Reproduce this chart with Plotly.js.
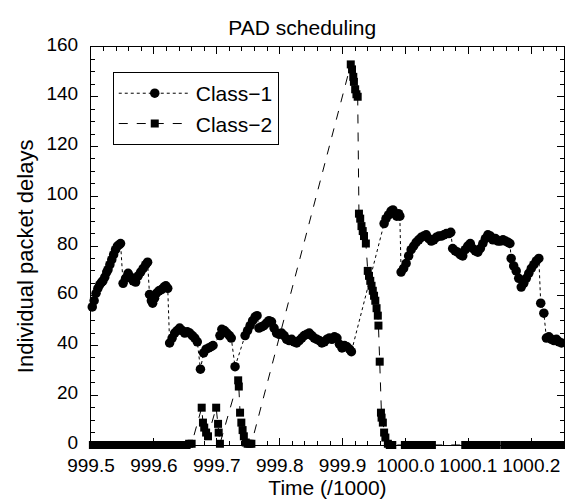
<!DOCTYPE html>
<html>
<head>
<meta charset="utf-8">
<script src="https://cdn.plot.ly/plotly-3.0.1.min.js"></script>
<style>html,body{margin:0;padding:0;background:#fff;}#chart{width:565px;height:500px;}</style>
</head>
<body>
<div id="chart"></div>
<script>
// Class-1 packet delays (time in units of 1000, delay)
const class1Time = [
  999.502, 999.505, 999.508, 999.511, 999.514, 999.517, 999.519, 999.522, 999.525, 999.527, 999.530, 999.533, 999.536, 999.539, 999.542, 999.545, 999.547,
  999.551, 999.555, 999.559, 999.563, 999.567, 999.571, 999.575, 999.579, 999.583, 999.587, 999.590,
  999.593, 999.596, 999.598, 999.601, 999.604, 999.608, 999.612, 999.616, 999.619, 999.622,
  999.625, 999.629, 999.633, 999.637, 999.641, 999.645, 999.649, 999.653, 999.657, 999.661, 999.665, 999.669,
  999.674, 999.679, 999.683, 999.687, 999.691, 999.694,
  999.705, 999.708, 999.712, 999.716, 999.720, 999.723, 999.729,
  999.745, 999.749, 999.753, 999.757, 999.761, 999.764, 999.767, 999.771, 999.775, 999.779, 999.783, 999.787, 999.791, 999.795, 999.799,
  999.803, 999.807, 999.811, 999.815, 999.819, 999.823, 999.827, 999.831, 999.835, 999.839, 999.843, 999.847, 999.851, 999.855, 999.859,
  999.863, 999.867, 999.871, 999.875, 999.879, 999.883, 999.887, 999.891, 999.895, 999.899, 999.903, 999.907, 999.911, 999.914,
  999.966, 999.969, 999.973, 999.977, 999.980, 999.983, 999.986, 999.989, 999.991,
  999.993, 999.997, 1000.001, 1000.005, 1000.009, 1000.013, 1000.017, 1000.021, 1000.025, 1000.029, 1000.033, 1000.037, 1000.041,
  1000.045, 1000.049, 1000.053, 1000.057, 1000.061, 1000.065, 1000.069, 1000.072,
  1000.075, 1000.079, 1000.083, 1000.087, 1000.091, 1000.095, 1000.099, 1000.103, 1000.107, 1000.111, 1000.115, 1000.119, 1000.123,
  1000.127, 1000.131, 1000.135, 1000.139, 1000.143, 1000.147, 1000.151, 1000.155, 1000.159, 1000.163, 1000.166,
  1000.168, 1000.172, 1000.176, 1000.180, 1000.184, 1000.188, 1000.192, 1000.196, 1000.200, 1000.204, 1000.208, 1000.212,
  1000.215, 1000.220, 1000.224, 1000.228, 1000.232, 1000.236, 1000.240, 1000.244, 1000.248
];
const class1Delay = [
  55.5, 58, 61, 63, 64.5, 65.5, 66, 67.5, 69.5, 70.5, 72.5, 74.5, 76.5, 78.5, 80, 80.5, 81,
  65, 67, 69, 67.5, 66, 65.5, 68, 69.5, 71, 72.5, 73.5,
  60.5, 58, 57, 59, 61, 62, 62.5, 63.5, 64, 63,
  41, 43, 45, 46, 47, 46, 45, 45.5, 45, 44, 43, 41.5,
  30.5, 37, 38.5, 39, 39.5, 40,
  44, 46.5, 46, 45, 44, 43, 31.5,
  44, 46, 48, 50, 51.5, 52, 47, 47.5, 48, 49, 50, 49.5, 47, 45, 44.5,
  45, 44, 42.5, 42, 42.5, 41.5, 41, 42, 43, 44, 44.5, 45, 44, 43, 42.5,
  42, 41, 41.5, 42.5, 43, 42.5, 43.5, 43, 40.5, 39, 40, 39.5, 38.5, 37.5,
  89, 91, 92.5, 94, 94.5, 93, 92, 93, 92,
  69.5, 71, 73, 76, 78.5, 80, 81.5, 82.5, 83.5, 84, 84.5, 83, 82,
  82.5, 83.5, 84, 84, 84.5, 85, 85, 85.5,
  79, 78, 77.5, 76.5, 76, 78.5, 80, 81, 79, 78, 77.5, 79, 81,
  83, 84.5, 84, 82.5, 83, 82, 82, 82.5, 82, 81.5, 81,
  75, 72, 70, 67, 63.5, 65, 67, 69, 71, 72.5, 74, 75,
  57, 53, 43, 43.5, 42.5, 42, 42.5, 41.5, 41
];

// Class-2 packet delays
const class2Time = [
  999.503, 999.508, 999.513, 999.518, 999.523, 999.528, 999.533, 999.538, 999.543, 999.548, 999.553, 999.558, 999.563, 999.568,
  999.573, 999.578, 999.583, 999.588, 999.593, 999.598, 999.603, 999.608, 999.613, 999.618, 999.623, 999.628, 999.633, 999.638,
  999.643, 999.648, 999.652, 999.656, 999.660,
  999.676, 999.678, 999.680, 999.683, 999.686,
  999.699, 999.702, 999.703, 999.705,
  999.734, 999.735, 999.737, 999.739, 999.741, 999.743, 999.746, 999.749, 999.752, 999.755,
  999.913, 999.915, 999.917, 999.918, 999.920, 999.922, 999.924,
  999.926, 999.928, 999.930, 999.932, 999.934, 999.937, 999.940, 999.942, 999.944, 999.946, 999.948, 999.950, 999.952, 999.954,
  999.956, 999.957, 999.959, 999.961, 999.962, 999.964, 999.966, 999.968, 999.972, 999.975, 999.979,
  999.999, 1000.003, 1000.008, 1000.013, 1000.018, 1000.023, 1000.028, 1000.033, 1000.038, 1000.042,
  1000.095, 1000.100, 1000.105, 1000.110, 1000.115, 1000.120, 1000.125, 1000.130, 1000.139, 1000.145,
  1000.158, 1000.163, 1000.168, 1000.173, 1000.178, 1000.183, 1000.188, 1000.193, 1000.198, 1000.203, 1000.208, 1000.213,
  1000.218, 1000.223, 1000.228, 1000.233, 1000.238, 1000.243, 1000.248
];
const class2Delay = [
  0, 0, 0, 0, 0, 0, 0, 0, 0, 0, 0, 0, 0, 0,
  0, 0, 0, 0, 0, 0, 0, 0, 0, 0, 0, 0, 0, 0,
  0, 0, 0, 0.5, 0.5,
  15, 9, 7, 5, 3.5,
  15, 8.5, 5, 0.5,
  26, 23.5, 13, 9, 6, 3.5, 1, 0.5, 0.5, 0.5,
  153, 151, 148, 146, 143, 141, 140,
  93, 91, 88, 86, 84, 81, 70, 68, 66, 64, 62, 60, 58, 55,
  52, 48, 33.5, 13, 11, 9, 5, 3, 0.5, 0, 0,
  0, 0, 0, 0, 0, 0, 0, 0, 0, 0,
  0, 0, 0, 0, 0, 0, 0, 0, 0, 0,
  0, 0, 0, 0, 0, 0, 0, 0, 0, 0, 0, 0,
  0, 0, 0, 0, 0, 0, 0
];

const xTickVals = [999.5, 999.6, 999.7, 999.8, 999.9, 1000.0, 1000.1, 1000.2];
const xTickText = ['999.5', '999.6', '999.7', '999.8', '999.9', '1000.0', '1000.1', '1000.2'];
const yTickVals = [0, 20, 40, 60, 80, 100, 120, 140, 160];

const FONT = 'Liberation Sans, Arial, Helvetica, sans-serif';

const traces = [
  {
    x: class1Time, y: class1Delay, name: 'Class\u22121', type: 'scatter', mode: 'lines+markers',
    line: {color: '#000', width: 1, dash: 'dot'},
    marker: {symbol: 'circle', size: 9.5, color: '#000'},
    cliponaxis: false
  },
  {
    x: class2Time, y: class2Delay, name: 'Class\u22122', type: 'scatter', mode: 'lines+markers',
    line: {color: '#000', width: 1, dash: 'dash'},
    marker: {symbol: 'square', size: 8, color: '#000'},
    cliponaxis: false
  }
];

const layout = {
  width: 565, height: 500,
  margin: {l: 91, r: 1, t: 47, b: 55},
  paper_bgcolor: '#fff', plot_bgcolor: '#fff',
  font: {family: FONT, color: '#000', size: 19},
  title: {text: 'PAD scheduling', font: {family: FONT, size: 21, color: '#000'},
          x: 0.535, xref: 'container', xanchor: 'center', y: 0.945, yref: 'container', yanchor: 'middle'},
  showlegend: true,
  legend: {x: 0.046, y: 0.937, xanchor: 'left', yanchor: 'top', bordercolor: '#000', borderwidth: 1,
           bgcolor: '#fff', font: {family: FONT, size: 21, color: '#000'}, tracegroupgap: 0,
           itemwidth: 72},
  annotations: [{
    text: 'Individual packet delays', xref: 'paper', yref: 'paper', x: -0.137, y: 0.475,
    xanchor: 'center', yanchor: 'middle', textangle: -90, showarrow: false,
    font: {family: FONT, size: 22, color: '#000'}
  }],
  xaxis: {
    range: [999.5, 1000.252], tickvals: xTickVals, ticktext: xTickText,
    ticks: 'inside', ticklen: 7, tickwidth: 1, tickcolor: '#000',
    showline: true, linecolor: '#000', linewidth: 1, mirror: 'allticks',
    showgrid: false, zeroline: false,
    minor: {dtick: 0.02, tick0: 999.5, ticks: 'inside', ticklen: 4, tickcolor: '#000', showgrid: false},
    tickfont: {family: FONT, size: 19, color: '#000'},
    ticklabelstandoff: 3,
    title: {text: 'Time (/1000)', font: {family: FONT, size: 21, color: '#000'}, standoff: 1}
  },
  yaxis: {
    range: [0, 160], tickvals: yTickVals,
    ticks: 'inside', ticklen: 7, tickwidth: 1, tickcolor: '#000',
    showline: true, linecolor: '#000', linewidth: 1, mirror: 'allticks',
    showgrid: false, zeroline: false,
    minor: {dtick: 5, tick0: 0, ticks: 'inside', ticklen: 4, tickcolor: '#000', showgrid: false},
    tickfont: {family: FONT, size: 19, color: '#000'},
    ticklabelstandoff: 8,
    ticklabelshift: -3
  }
};

Plotly.newPlot('chart', traces, layout, {displayModeBar: false, staticPlot: true});
</script>
</body>
</html>
